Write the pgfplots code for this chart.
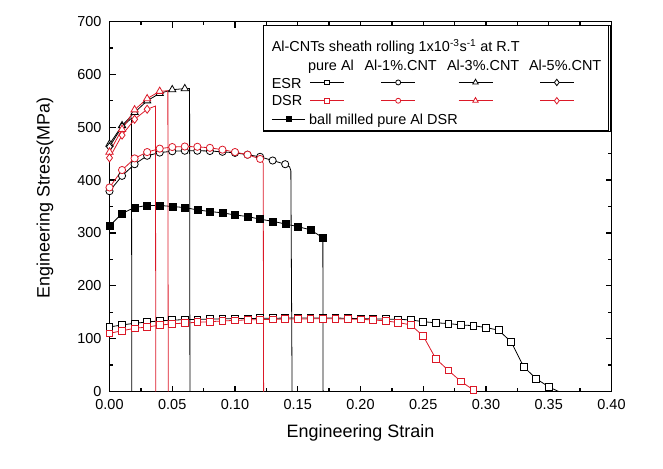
\documentclass[border=0pt]{standalone}
\usepackage{pgfplots}
\pgfplotsset{compat=1.18}
\usepackage{pgfplotstable}
\usepackage{fontspec}
\setmainfont{Liberation Sans}
\definecolor{cred}{RGB}{220,25,40}
\newcommand\lgf{\fontsize{14.5}{17}\selectfont}
\newcommand\axf{\fontsize{18}{21}\selectfont}

% ESR = black, DSR = red
\pgfplotstableread{
x y
0.00 122
0.01 126
0.02 129
0.03 131.5
0.04 133.5
0.05 135
0.06 136
0.07 136.5
0.08 137
0.09 137.5
0.10 138
0.11 138
0.12 138.5
0.13 138.5
0.14 139
0.15 139
0.16 139
0.17 139
0.18 139
0.19 138.5
0.20 138
0.21 137.5
0.22 137
0.23 136.5
0.24 135.5
0.25 132
0.26 130
0.27 128.5
0.28 126
0.29 124.5
0.30 121
0.31 116
0.32 94
0.33 47
0.34 24
0.35 9
0.356 2
0.358 0
}\ESRpure
\pgfplotstableread{
x y
0.00 110
0.01 115
0.02 119.5
0.03 122
0.04 125.5
0.05 128
0.06 129.5
0.07 131
0.08 132
0.09 133.5
0.10 134.5
0.11 135.5
0.12 136
0.13 136.5
0.14 137
0.15 137
0.16 137.5
0.17 137.5
0.18 137.5
0.19 137
0.20 136.5
0.21 135.5
0.22 133.5
0.23 130.5
0.24 126
0.25 105
0.26 62
0.27 40
0.28 19
0.29 3
0.292 0
}\DSRpure
\pgfplotstableread{
x y
0.00 379
0.01 408
0.02 430
0.03 446
0.04 452
0.05 454.5
0.06 455.5
0.07 455.5
0.08 455
0.09 453.5
0.10 451.5
0.11 448
0.12 444
0.13 437
0.14 430
0.1435 425
0.1445 418
0.1455 0
}\ESRone
\pgfplotstableread{
x y
0.00 386
0.01 419
0.02 441
0.03 453
0.04 459.5
0.05 462.5
0.06 463.5
0.07 463
0.08 461
0.09 457.5
0.10 453
0.11 448
0.12 440
0.1225 432
0.1228 0
}\DSRone
\pgfplotstableread{
x y
0.00 468
0.01 503
0.02 528
0.03 550
0.04 564
0.05 571
0.06 573
0.0638 573
0.0641 0
}\ESRthree
\pgfplotstableread{
x y
0.00 453
0.01 496
0.02 533
0.03 554
0.04 568
0.0465 569
0.0468 0
}\DSRthree
\pgfplotstableread{
x y
0.00 463
0.01 501
0.0175 517
0.0178 0
}\ESRfive
\pgfplotstableread{
x y
0.00 442
0.01 485
0.02 515
0.03 534
0.0366 540
0.0369 0
}\DSRfive
\pgfplotstableread{
x y
0.00 313
0.01 337
0.02 348
0.03 352
0.04 352
0.05 350
0.06 348
0.07 343.5
0.08 340.5
0.09 338
0.10 334
0.11 331
0.12 326
0.13 322
0.14 317
0.15 312
0.16 306
0.17 291
0.1702 0
}\BallMilled

% legend sample: color, mark, mark size, xleft, xmid, xright, y
\newcommand\lgsample[7]{%
  \draw[#1, line width=0.8bp, mark=#2, mark size=#3, mark repeat=2, mark phase=2,
        mark options={fill=white, solid, line width=0.8bp}]
    plot coordinates {(#4,#7) (#5,#7) (#6,#7)};}

\newcommand\legendcontents{%
  \path (0,0) rectangle (345bp,-105bp);
  \node[anchor=base west, inner sep=0pt, font=\lgf] at (8.3bp,-25.7bp)
    {Al-CNTs sheath rolling 1x10\textsuperscript{-3}s\textsuperscript{-1} at R.T};
  \node[anchor=base, inner sep=0pt, font=\lgf] at (67.5bp,-44.3bp) {pure Al};
  \node[anchor=base, inner sep=0pt, font=\lgf] at (137.2bp,-44.3bp) {Al-1\%.CNT};
  \node[anchor=base, inner sep=0pt, font=\lgf] at (219.7bp,-44.3bp) {Al-3\%.CNT};
  \node[anchor=base, inner sep=0pt, font=\lgf] at (301.7bp,-44.3bp) {Al-5\%.CNT};
  \node[anchor=base west, inner sep=0pt, font=\lgf] at (8.3bp,-62.3bp) {ESR};
  \node[anchor=base west, inner sep=0pt, font=\lgf] at (8.3bp,-80bp) {DSR};
  \lgsample{black}{square*}{2.4bp}{46.7bp}{63.3bp}{80bp}{-56.7bp}
  \lgsample{black}{*}{2.5bp}{117.7bp}{134.7bp}{151.7bp}{-56.7bp}
  \lgsample{black}{triangle*}{3.2bp}{195bp}{212bp}{229bp}{-56.7bp}
  \lgsample{black}{diamond*}{3.2bp}{276.7bp}{293.3bp}{310bp}{-56.7bp}
  \lgsample{cred}{square*}{2.4bp}{46.7bp}{63.3bp}{80bp}{-75bp}
  \lgsample{cred}{*}{2.5bp}{117.7bp}{134.7bp}{151.7bp}{-75bp}
  \lgsample{cred}{triangle*}{3.2bp}{195bp}{212bp}{229bp}{-75bp}
  \lgsample{cred}{diamond*}{3.2bp}{276.7bp}{293.3bp}{310bp}{-75bp}
  \draw[black, line width=0.8bp, mark=square*, mark size=2.6bp, mark repeat=2, mark phase=2,
        mark options={fill=black, solid}]
    plot coordinates {(8.3bp,-93.3bp) (25bp,-93.3bp) (41.7bp,-93.3bp)};
  \node[anchor=base west, inner sep=0pt, font=\lgf] at (45.7bp,-98.3bp) {ball milled pure Al DSR};
}

\pgfplotsset{
  ln/.style={#1, line width=0.8bp, mark=none, forget plot},
  mk/.style={#1, only marks, mark size=3.4bp, mark options={fill=white, line width=0.8bp, solid}, forget plot},
}

\begin{document}
\begin{tikzpicture}
\useasboundingbox (-109.5bp,-77.5bp) rectangle (553.5bp,391.5bp);
\begin{axis}[
  at={(0,0)}, anchor=south west, scale only axis,
  width=502bp, height=370bp,
  xmin=0, xmax=0.4, ymin=0, ymax=700,
  xtick={0,0.05,0.10,0.15,0.20,0.25,0.30,0.35,0.40},
  ytick={0,100,200,300,400,500,600,700},
  minor x tick num=1, minor y tick num=1,
  tick align=inside,
  major tick length=6bp, minor tick length=3.5bp,
  tick style={black, line width=1.3bp},
  axis line style={line width=1.6bp},
  scaled x ticks=false,
  /pgf/number format/assume math mode=true,
  tick label style={font=\lgf},
  xticklabel style={/pgf/number format/fixed, /pgf/number format/fixed zerofill,
                    /pgf/number format/precision=2, yshift=-4bp},
  yticklabel style={xshift=-4.5bp},
  xlabel={Engineering Strain},
  ylabel={Engineering Stress(MPa)},
  label style={font=\axf},
  xlabel style={at={(axis description cs:0.5,-0.1122)}, anchor=center},
  ylabel style={at={(axis description cs:-0.1285,0.523)}, anchor=center},
  legend style={at={(axis description cs:1,1)}, anchor=north east,
                xshift=-1.5bp, yshift=-3.5bp, inner sep=0pt, outer sep=0pt,
                draw=black, line width=1bp, fill=white,
                nodes={inner sep=0pt, outer sep=0pt}, column sep=0pt, row sep=0pt},
]
% ESR (black)
\addplot[ln=black] table {\ESRpure};
\addplot[mk=black, mark=square*, skip coords between index={36}{38}] table {\ESRpure};
\addplot[ln=black] table {\ESRone};
\addplot[mk=black, mark=*, mark size=3.6bp, skip coords between index={15}{18}] table {\ESRone};
\addplot[ln=black] table {\ESRthree};
\addplot[mk=black, mark=triangle*, mark size=4.2bp, skip coords between index={7}{9}] table {\ESRthree};
\addplot[ln=black] table {\ESRfive};
\addplot[mk=black, mark=diamond*, mark size=4bp, skip coords between index={2}{4}] table {\ESRfive};
% ball milled pure Al DSR
\addplot[ln=black] table {\BallMilled};
\addplot[black, only marks, mark=square*, mark size=3.5bp, mark options={fill=black},
         skip coords between index={18}{19}, forget plot] table {\BallMilled};
% DSR (red)
\addplot[ln=cred] table {\DSRpure};
\addplot[mk=cred, mark=square*, skip coords between index={30}{31}] table {\DSRpure};
\addplot[ln=cred] table {\DSRone};
\addplot[mk=cred, mark=*, mark size=3.6bp, skip coords between index={13}{15}] table {\DSRone};
\addplot[ln=cred] table {\DSRthree};
\addplot[mk=cred, mark=triangle*, mark size=4.2bp, skip coords between index={5}{7}] table {\DSRthree};
\addplot[ln=cred] table {\DSRfive};
\addplot[mk=cred, mark=diamond*, mark size=4bp, skip coords between index={4}{6}] table {\DSRfive};

\addlegendimage{legend image code/.code={\legendcontents}}
\addlegendentry{\relax}
\end{axis}
\end{tikzpicture}
\end{document}
